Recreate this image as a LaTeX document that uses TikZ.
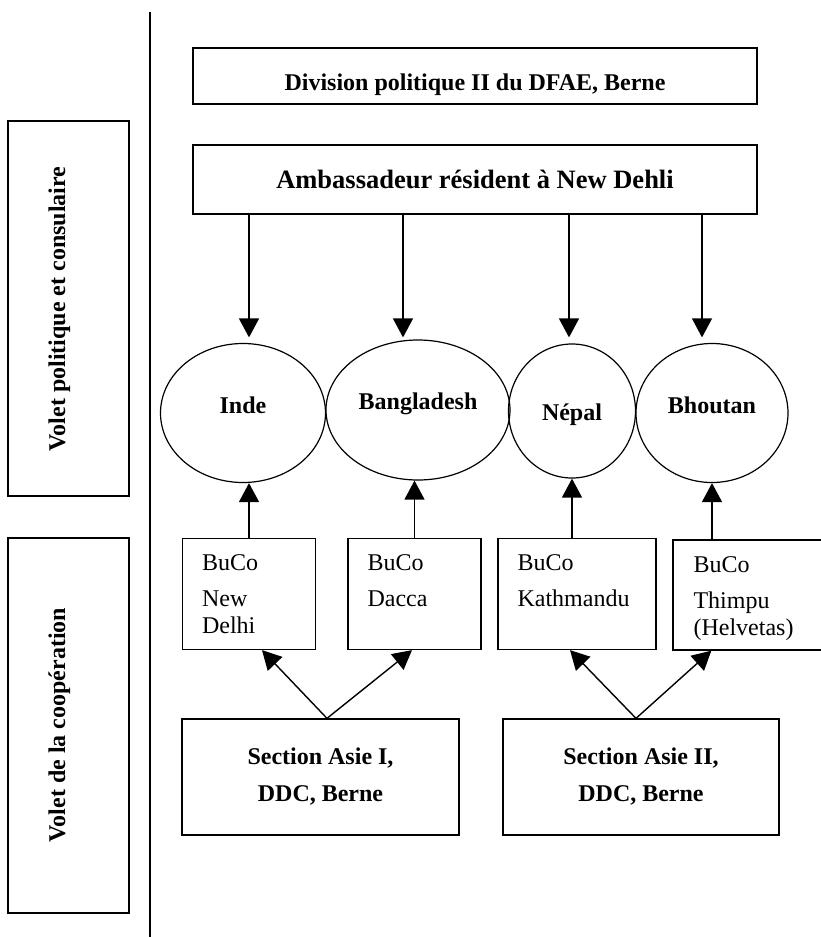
\documentclass[tikz,border=0pt]{standalone}
\usepackage{fontspec}
\setmainfont{Liberation Serif}
\usepackage{tikz}
\usetikzlibrary{shapes.geometric,arrows.meta,positioning,calc}
\tikzset{
  office/.style={rectangle, draw=black, line width=1.3pt, inner sep=0pt,
                 minimum width=564pt, font=\bfseries\fontsize{24}{28}\selectfont},
  volet/.style={rectangle, draw=black, line width=1.3pt,
                minimum width=121pt, minimum height=375pt},
  volettext/.style={font=\bfseries\fontsize{24}{28}\selectfont, rotate=90,
                    anchor=base, inner sep=0pt},
  country/.style={ellipse, draw=black, line width=1.2pt, inner sep=0pt,
                  text height=5pt, text depth=5pt,
                  font=\bfseries\fontsize{24}{28}\selectfont},
  buco/.style={rectangle, draw=black, line width=1.3pt, minimum height=111pt},
  bucotext/.style={font=\fontsize{24}{27}\selectfont, align=left,
                   inner sep=0pt, anchor=north west},
  section/.style={rectangle, draw=black, line width=1.3pt, minimum width=277pt,
                  minimum height=116pt, align=center,
                  font=\bfseries\fontsize{24}{37}\selectfont},
  flow/.style={-{Triangle[length=19pt,width=20pt]}, line width=1.4pt, black},
}

\begin{document}
\begin{tikzpicture}[x=1pt, y=-1pt]
\useasboundingbox (0,0) rectangle (820,937);

% ── Left column: the two "volets" ─────────────────────────
\node[volet] (vpol) at (68.5,308.5) {};
\node[volettext] at (65,309) {Volet politique et consulaire};
\node[volet] (vcoop) at (68.5,725.5) {};
\node[volettext] at (65,725) {Volet de la coopération};
\draw[line width=1.4pt] (150,12) -- (150,937);

% ── Political side (top) ──────────────────────────────────
\node[office, minimum height=56pt, text height=28pt, text depth=0pt]
      (dfae) at (475,76) {Division politique II du DFAE, Berne};
\node[office, minimum height=69pt, font=\bfseries\fontsize{26.5}{30}\selectfont]
      (amb) at (475,179.5) {Ambassadeur résident à New Dehli};

% countries
\node[country, minimum width=165pt, minimum height=139pt] (inde) at (243,413) {Inde};
\node[country, minimum width=184pt, minimum height=140pt, text depth=7pt]
      (bang) at (418,410) {Bangladesh};
\node[country, minimum width=127pt, minimum height=134pt, text height=23pt]
      (nep) at (572,411) {Népal};
\node[country, minimum width=152pt, minimum height=139pt] (bho) at (712,413) {Bhoutan};

\draw[flow] ([xshift=6pt]amb.south -| inde.north) -- ([xshift=6pt,yshift=5.5pt]inde.north);
\draw[flow] ([xshift=-15pt]amb.south -| bang.north) -- ([xshift=-15pt,yshift=2pt]bang.north);
\draw[flow] ([xshift=-3pt]amb.south -| nep.north) -- ([xshift=-3pt,yshift=6pt]nep.north);
\draw[flow] ([xshift=-10pt]amb.south -| bho.north) -- ([xshift=-10pt,yshift=5.5pt]bho.north);

% ── Cooperation side: BuCo offices ────────────────────────
\node[buco, minimum width=133pt] (bnd) at (249,594) {};
\node[bucotext] at ([shift={(20,17)}]bnd.north west) {BuCo\\[9pt]New\\Delhi};
\node[buco, minimum width=133pt] (bdc) at (414.5,594) {};
\node[bucotext] at ([shift={(20,17)}]bdc.north west) {BuCo\\[9pt]Dacca};
\node[buco, minimum width=158pt] (bkt) at (577,594) {};
\node[bucotext] at ([shift={(20,17)}]bkt.north west) {BuCo\\[9pt]Kathmandu};
\node[buco, minimum width=151pt, minimum height=110pt] (bth) at (748.5,595) {};
\node[bucotext] at ([shift={(21,17)}]bth.north west) {BuCo\\[9pt]Thimpu\\(Helvetas)};

\draw[flow] (bnd.north) -- (bnd.north |- inde.south);
\draw[flow] (bdc.north) -- (bdc.north |- bang.south);
\draw[flow] (nep.south |- bkt.north) -- (nep.south);
\draw[flow] (bho.south |- bth.north) -- (bho.south);

% ── DDC sections (bottom) ─────────────────────────────────
\node[section] (asie1) at (320.5,777) {Section Asie I,\\DDC, Berne};
\node[section, minimum width=276pt] (asie2) at (641,777) {Section Asie II,\\DDC, Berne};

\draw[flow] ([xshift=6.5pt]asie1.north) -- ([xshift=13pt]bnd.south);
\draw[flow] ([xshift=6.5pt]asie1.north) -- ([xshift=-2.5pt]bdc.south);
\draw[flow] ([xshift=-5pt]asie2.north) -- ([xshift=-7pt]bkt.south);
\draw[flow] ([xshift=-5pt]asie2.north) -- ([xshift=39pt]bth.south west);

\end{tikzpicture}
\end{document}
